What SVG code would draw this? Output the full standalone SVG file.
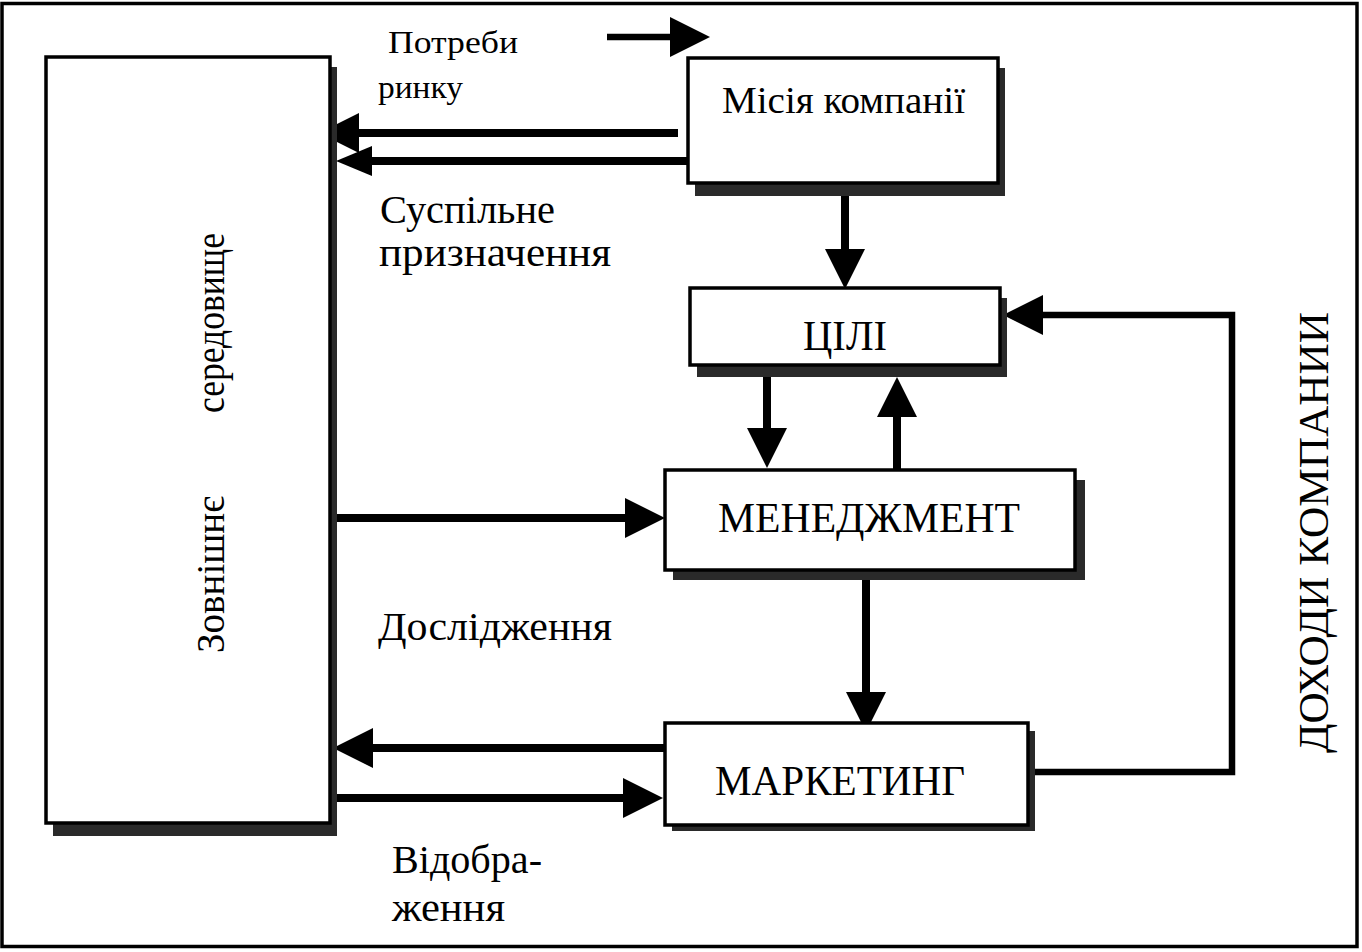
<svg xmlns="http://www.w3.org/2000/svg" width="1362" height="952" viewBox="0 0 1362 952">
<style>
text { font-family: "Liberation Serif", "Times New Roman", serif; fill: #000; }
.box { fill: #fff; stroke: #000; stroke-width: 3.5; }
.shadow { fill: #2a2a2a; }
.ln { fill: none; stroke: #000; stroke-width: 8; }
.ln2 { fill: none; stroke: #000; stroke-width: 6.5; }
</style>
<defs>
<marker id="ah" viewBox="0 0 40 40" refX="0" refY="20" markerWidth="40" markerHeight="40" markerUnits="userSpaceOnUse" orient="auto">
<polygon points="0,0 40,20 0,40" fill="#000"/>
</marker>
<marker id="ahs" viewBox="0 0 36 30" refX="0" refY="15" markerWidth="36" markerHeight="30" markerUnits="userSpaceOnUse" orient="auto">
<polygon points="0,0 36,15 0,30" fill="#000"/>
</marker>
</defs>
<rect x="2" y="3.5" width="1355" height="943" fill="#fff" stroke="#000" stroke-width="3.5"/>

<g id="connectors">
<path class="ln" d="M678,133 L359,133" marker-end="url(#ah)"/>
<path class="ln" d="M688,161 L372,161" marker-end="url(#ahs)"/>
<path class="ln2" d="M607,37 L670,37" marker-end="url(#ah)"/>
<path class="ln" d="M845,190 L845,249" marker-end="url(#ah)"/>
<path class="ln" d="M767,368 L767,428" marker-end="url(#ah)"/>
<path class="ln" d="M897,470 L897,417" marker-end="url(#ah)"/>
<path class="ln" d="M333,518 L625,518" marker-end="url(#ah)"/>
<path class="ln" d="M866,572 L866,692" marker-end="url(#ah)"/>
<path class="ln" d="M665,748 L373,748" marker-end="url(#ah)"/>
<path class="ln" d="M333,798 L623,798" marker-end="url(#ah)"/>
<path class="ln2" d="M1030,772 L1232,772 L1232,315 L1043,315" marker-end="url(#ah)"/>
</g>

<g id="env">
<rect class="shadow" x="53" y="67" width="284" height="769"/>
<rect class="box" x="46" y="57" width="284" height="766"/>
<g transform="translate(224,653) rotate(-90)">
<text x="0" y="0" font-size="40" textLength="157" lengthAdjust="spacingAndGlyphs">Зовнішнє</text>
<text x="240" y="0" font-size="40" textLength="180" lengthAdjust="spacingAndGlyphs">середовище</text>
</g>
</g>

<g id="mission">
<rect class="shadow" x="695" y="68" width="310" height="128"/>
<rect class="box" x="688" y="58" width="310" height="125"/>
<text x="722" y="113" font-size="38" textLength="243" lengthAdjust="spacingAndGlyphs">Місія компанії</text>
</g>

<g id="goals">
<rect class="shadow" x="697" y="298" width="310" height="79"/>
<rect class="box" x="690" y="288" width="310" height="77"/>
<text x="803" y="350" font-size="42" textLength="84" lengthAdjust="spacingAndGlyphs">ЦІЛІ</text>
</g>

<g id="management">
<rect class="shadow" x="673" y="480" width="412" height="100"/>
<rect class="box" x="665" y="470" width="410" height="100"/>
<text x="718" y="532" font-size="42" textLength="302" lengthAdjust="spacingAndGlyphs">МЕНЕДЖМЕНТ</text>
</g>

<g id="marketing">
<rect class="shadow" x="672" y="731" width="363" height="100"/>
<rect class="box" x="665" y="723" width="363" height="102"/>
<text x="715" y="795" font-size="42" textLength="250" lengthAdjust="spacingAndGlyphs">МАРКЕТИНГ</text>
</g>

<g id="labels">
<text x="388" y="53" font-size="31" textLength="130" lengthAdjust="spacingAndGlyphs">Потреби</text>
<text x="378" y="98" font-size="31" textLength="85" lengthAdjust="spacingAndGlyphs">ринку</text>
<text x="380" y="223" font-size="40" textLength="175" lengthAdjust="spacingAndGlyphs">Суспільне</text>
<text x="379" y="266" font-size="40" textLength="232" lengthAdjust="spacingAndGlyphs">призначення</text>
<text x="378" y="640" font-size="40" textLength="234" lengthAdjust="spacingAndGlyphs">Дослідження</text>
<text x="392" y="873" font-size="40" textLength="150" lengthAdjust="spacingAndGlyphs">Відобра-</text>
<text x="392" y="921" font-size="40" textLength="113" lengthAdjust="spacingAndGlyphs">ження</text>
<g transform="translate(1328,753) rotate(-90)">
<text x="0" y="0" font-size="42" textLength="441" lengthAdjust="spacingAndGlyphs">ДОХОДИ КОМПАНИИ</text>
</g>
</g>
</svg>
